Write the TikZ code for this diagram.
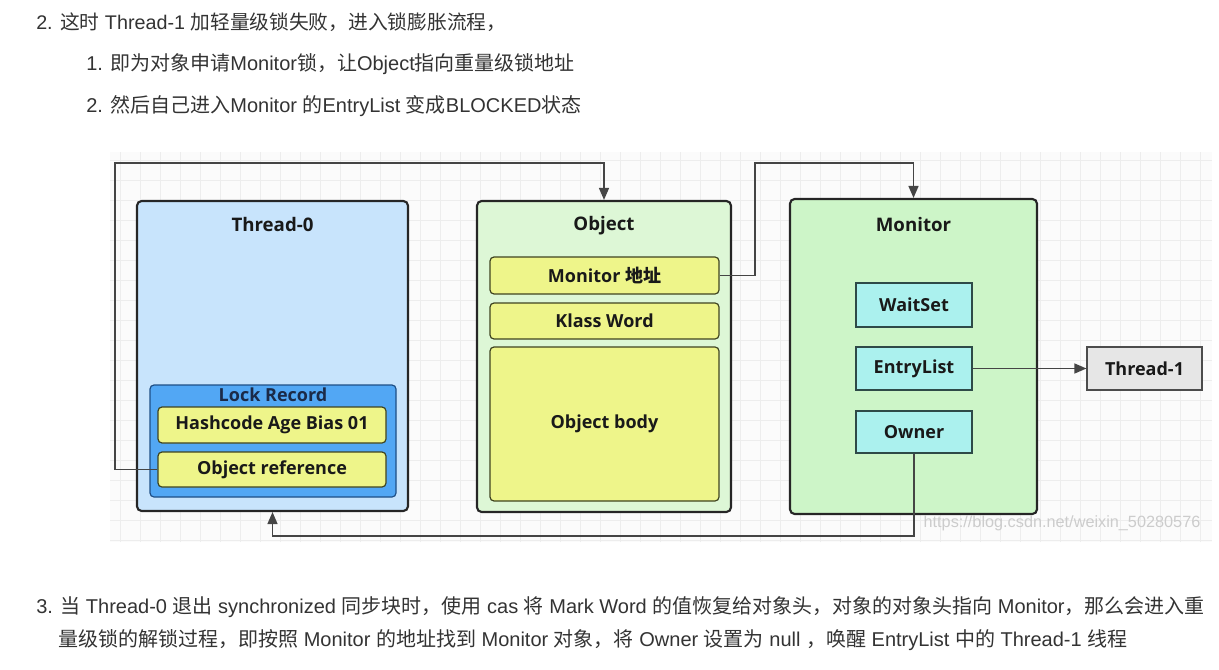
\documentclass[tikz,border=0pt]{standalone}
\usepackage{fontspec}
\setmainfont{Liberation Sans}
\newfontfamily\cjk{Noto Sans CJK SC}
\newfontfamily\lab{Open Sans}
\usetikzlibrary{arrows.meta}
\newlength\px \setlength\px{0.75pt}
\newcommand\zh[1]{{\cjk #1}}
\definecolor{txt}{HTML}{333333}
\definecolor{t0fill}{HTML}{C8E4FC}
\definecolor{lrfill}{HTML}{52A7F4}
\definecolor{lrdraw}{HTML}{1E4F86}
\definecolor{yfill}{HTML}{EEF58A}
\definecolor{ydraw}{HTML}{3F4420}
\definecolor{objfill}{HTML}{DDF7D6}
\definecolor{monfill}{HTML}{CDF5C8}
\definecolor{cfill}{HTML}{ABF1EE}
\definecolor{cdraw}{HTML}{2E4A48}
\definecolor{gfill}{HTML}{E6E6E6}
\definecolor{wire}{HTML}{454545}
\definecolor{gridc}{HTML}{EDEDED}
\definecolor{navy}{HTML}{1B2A48}
\tikzset{
  para/.style={anchor=west, inner sep=0pt, text=txt, font=\fontsize{15}{17}\selectfont},
  bigbox/.style={draw=black!85, line width=1.6pt, rounded corners=3.5pt, inner sep=0pt},
  ybox/.style={draw=ydraw, fill=yfill, line width=0.9pt, rounded corners=3pt, inner sep=0pt,
     font=\lab\bfseries\fontsize{13.5}{16}\selectfont, text=black!90},
  cbox/.style={draw=cdraw, fill=cfill, line width=0.9pt, inner sep=0pt,
     font=\lab\bfseries\fontsize{13.5}{16}\selectfont, text=black!90},
  gbox/.style={draw=black!70, fill=gfill, line width=0.9pt, inner sep=0pt,
     font=\lab\bfseries\fontsize{13.5}{16}\selectfont, text=black!90},
  titletext/.style={inner sep=0pt, font=\lab\bfseries\fontsize{14}{16}\selectfont, text=black!90},
  wirepath/.style={draw=wire, line width=1.1pt},
  arr/.style={wirepath, -{Triangle[length=9pt,width=7.5pt]}},
}
\begin{document}
\begin{tikzpicture}[x=0.75pt, y=-0.75pt]
\useasboundingbox (0,0) rectangle (1219,670);
\fill[white] (0,0) rectangle (1219,670);
% grid background
\fill[black!1.5] (110,152) rectangle (1212,542);
\draw[gridc, line width=0.4pt, step=15pt] (110,152) grid (1212,542);

% text
\node[para, font=\fontsize{14.8}{17}\selectfont] (l1) at (36,22) {2. \zh{这时} Thread-1 \zh{加轻量级锁失败，进入锁膨胀流程，}};
\node[para] (l2) at (86,64) {1. \zh{即为对象申请}Monitor\zh{锁，让}Object\zh{指向重量级锁地址}};
\node[para] (l3) at (86,106) {2. \zh{然后自己进入}Monitor \zh{的}EntryList \zh{变成}BLOCKED\zh{状态}};
\node[para] (l4) at (36,607) {3. \zh{当} Thread-0 \zh{退出} synchronized \zh{同步块时，使用} cas \zh{将} Mark Word \zh{的值恢复给对象头，对象的对象头指向} Monitor\zh{，那么会进入重}};
\node[para] (l5) at (58,640) {\zh{量级锁的解锁过程，即按照} Monitor \zh{的地址找到} Monitor \zh{对象，将} Owner \zh{设置为} null \zh{，唤醒} EntryList \zh{中的} Thread-1 \zh{线程}};

% Thread-0
\node[bigbox, fill=t0fill, minimum width=271\px, minimum height=310\px] (t0) at (272.5,356) {};
\node[titletext] (t0t) at (272.5,225) {Thread-0};
\node[draw=lrdraw, fill=lrfill, line width=0.9pt, rounded corners=3pt, inner sep=0pt,
      minimum width=246\px, minimum height=112\px] (lr) at (273,441) {};
\node[inner sep=0pt, font=\lab\bfseries\fontsize{13.5}{16}\selectfont, text=navy] (lrt) at (273,395) {Lock Record};
\node[ybox, minimum width=228\px, minimum height=36\px] (hash) at (272,425) {Hashcode Age Bias 01};
\node[ybox, minimum width=228\px, minimum height=35\px] (oref) at (272,469.5) {Object reference};

% Object
\node[bigbox, fill=objfill, minimum width=254\px, minimum height=311\px] (obj) at (604,356.5) {};
\node[titletext] (objt) at (604,226) {Object};
\node[ybox, minimum width=229\px, minimum height=37\px] (maddr) at (604.5,275.5) {Monitor {\cjk\bfseries 地址}};
\node[ybox, minimum width=229\px, minimum height=36\px] (klass) at (604.5,321) {Klass Word};
\node[ybox, minimum width=229\px, minimum height=154\px] (body) at (604.5,424) {Object body};

% Monitor
\node[bigbox, fill=monfill, minimum width=247\px, minimum height=315\px] (mon) at (913.5,356.5) {};
\node[titletext] (mont) at (913.5,224) {Monitor};
\node[cbox, minimum width=116\px, minimum height=44\px] (wait) at (914,305) {WaitSet};
\node[cbox, minimum width=116\px, minimum height=43\px] (entry) at (914,368.5) {EntryList};
\node[cbox, minimum width=116\px, minimum height=42\px] (owner) at (914,432) {Owner};

% Thread-1
\node[gbox, minimum width=115\px, minimum height=43\px] (th1) at (1144.5,368.5) {Thread-1};

% connectors
\coordinate (c1) at (115,163);
\coordinate (c2) at (755,163);
\coordinate (c3) at (272.5,536);
\draw[arr] (oref.west) -| (c1) -| (obj.north);
\draw[arr] (maddr.east) -| (c2) -| (mon.north);
\draw[arr] (entry.east) -- (th1.west);
\draw[arr] (owner.south) |- (c3) -- (t0.south);

% watermark
\node[inner sep=0pt, text=black!20, font=\fontsize{12.2}{14}\selectfont] (wm) at (1062,523) {https://blog.csdn.net/weixin\_50280576};
\end{tikzpicture}
\end{document}
